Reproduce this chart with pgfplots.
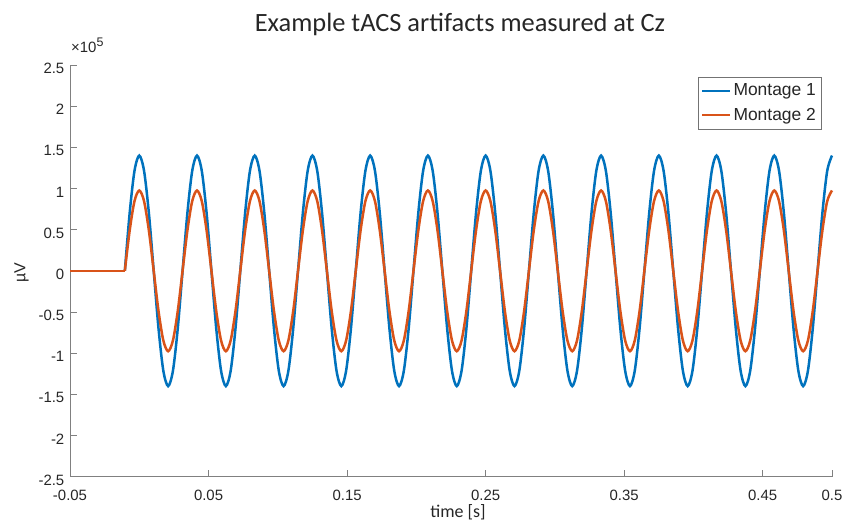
\documentclass[border=0pt]{standalone}
\usepackage{pgfplots}
\pgfplotsset{compat=1.18}
\usepackage{pgfplotstable}
\usepackage{fontspec}
\setmainfont{Liberation Sans}
\newfontfamily\calibri{Carlito}
\definecolor{mblue}{rgb}{0,0.447,0.741}
\definecolor{morange}{rgb}{0.85,0.325,0.098}
\definecolor{tickgray}{rgb}{0.15,0.15,0.15}

\pgfplotstableread{
t m1 m2
-0.010417 0 0
-0.006944 70000 48800
-0.003472 121244 84524
0.000000 140000 97600
0.003472 121244 84524
0.006944 70000 48800
0.010417 0 0
0.013889 -70000 -48800
0.017361 -121244 -84524
0.020833 -140000 -97600
0.024306 -121244 -84524
0.027778 -70000 -48800
0.031250 0 0
0.034722 70000 48800
0.038194 121244 84524
0.041667 140000 97600
0.045139 121244 84524
0.048611 70000 48800
0.052083 0 0
0.055556 -70000 -48800
0.059028 -121244 -84524
0.062500 -140000 -97600
0.065972 -121244 -84524
0.069444 -70000 -48800
0.072917 0 0
0.076389 70000 48800
0.079861 121244 84524
0.083333 140000 97600
0.086806 121244 84524
0.090278 70000 48800
0.093750 0 0
0.097222 -70000 -48800
0.100694 -121244 -84524
0.104167 -140000 -97600
0.107639 -121244 -84524
0.111111 -70000 -48800
0.114583 0 0
0.118056 70000 48800
0.121528 121244 84524
0.125000 140000 97600
0.128472 121244 84524
0.131944 70000 48800
0.135417 0 0
0.138889 -70000 -48800
0.142361 -121244 -84524
0.145833 -140000 -97600
0.149306 -121244 -84524
0.152778 -70000 -48800
0.156250 0 0
0.159722 70000 48800
0.163194 121244 84524
0.166667 140000 97600
0.170139 121244 84524
0.173611 70000 48800
0.177083 0 0
0.180556 -70000 -48800
0.184028 -121244 -84524
0.187500 -140000 -97600
0.190972 -121244 -84524
0.194444 -70000 -48800
0.197917 0 0
0.201389 70000 48800
0.204861 121244 84524
0.208333 140000 97600
0.211806 121244 84524
0.215278 70000 48800
0.218750 0 0
0.222222 -70000 -48800
0.225694 -121244 -84524
0.229167 -140000 -97600
0.232639 -121244 -84524
0.236111 -70000 -48800
0.239583 0 0
0.243056 70000 48800
0.246528 121244 84524
0.250000 140000 97600
0.253472 121244 84524
0.256944 70000 48800
0.260417 0 0
0.263889 -70000 -48800
0.267361 -121244 -84524
0.270833 -140000 -97600
0.274306 -121244 -84524
0.277778 -70000 -48800
0.281250 0 0
0.284722 70000 48800
0.288194 121244 84524
0.291667 140000 97600
0.295139 121244 84524
0.298611 70000 48800
0.302083 0 0
0.305556 -70000 -48800
0.309028 -121244 -84524
0.312500 -140000 -97600
0.315972 -121244 -84524
0.319444 -70000 -48800
0.322917 0 0
0.326389 70000 48800
0.329861 121244 84524
0.333333 140000 97600
0.336806 121244 84524
0.340278 70000 48800
0.343750 0 0
0.347222 -70000 -48800
0.350694 -121244 -84524
0.354167 -140000 -97600
0.357639 -121244 -84524
0.361111 -70000 -48800
0.364583 0 0
0.368056 70000 48800
0.371528 121244 84524
0.375000 140000 97600
0.378472 121244 84524
0.381944 70000 48800
0.385417 0 0
0.388889 -70000 -48800
0.392361 -121244 -84524
0.395833 -140000 -97600
0.399306 -121244 -84524
0.402778 -70000 -48800
0.406250 0 0
0.409722 70000 48800
0.413194 121244 84524
0.416667 140000 97600
0.420139 121244 84524
0.423611 70000 48800
0.427083 0 0
0.430556 -70000 -48800
0.434028 -121244 -84524
0.437500 -140000 -97600
0.440972 -121244 -84524
0.444444 -70000 -48800
0.447917 0 0
0.451389 70000 48800
0.454861 121244 84524
0.458333 140000 97600
0.461806 121244 84524
0.465278 70000 48800
0.468750 0 0
0.472222 -70000 -48800
0.475694 -121244 -84524
0.479167 -140000 -97600
0.482639 -121244 -84524
0.486111 -70000 -48800
0.489583 0 0
0.493056 70000 48800
0.496528 121244 84524
0.500000 140000 97600
}\tacs

\begin{document}
\begin{tikzpicture}
\useasboundingbox (0,0) rectangle (846bp,526bp);
\begin{axis}[
  at={(70bp,49.3bp)}, anchor=south west,
  scale only axis, width=762bp, height=411.7bp,
  xmin=-0.05, xmax=0.5, ymin=-250000, ymax=250000,
  axis x line*=bottom, axis y line*=left,
  axis line style={black!50, line width=0.8bp},
  tick style={black!50, line width=0.8bp},
  tick align=inside, major tick length=6.5bp,
  xtick={-0.05,0.05,0.15,0.25,0.35,0.45,0.5},
  xticklabels={-0.05,0.05,0.15,0.25,0.35,0.45,0.5},
  ytick={-250000,-200000,-150000,-100000,-50000,0,50000,100000,150000,200000,250000},
  yticklabels={-2.5,-2,-1.5,-1,-0.5,0,0.5,1,1.5,2,2.5},
  scaled y ticks=false,
  ticklabel style={font=\fontsize{15}{17}\selectfont, text=tickgray},
  xticklabel style={anchor=base, inner sep=0pt, yshift=-24bp},
  yticklabel style={anchor=east, inner sep=0pt, xshift=-5.5bp, yshift=-3.5bp},
  legend style={at={(0.9865,0.9716)}, anchor=north east, draw=black!55,
    line width=0.6bp, fill=white, font=\fontsize{17.5}{20}\selectfont,
    inner xsep=3.5bp, inner ysep=5bp, row sep=7bp, cells={anchor=west}, text=tickgray},
  legend image code/.code={\draw[#1, line width=2.2bp] (0bp,0bp) -- (28bp,0bp);},
  clip=false,
]
\addplot[mblue, line width=2.5bp, forget plot] coordinates {(-0.05,0) (-0.010417,0)};
\addplot[mblue, line width=2.5bp, smooth] table[x=t, y=m1] {\tacs};
\addlegendentry{Montage 1}
\addplot[morange, line width=2.5bp, forget plot] coordinates {(-0.05,0) (-0.010417,0)};
\addplot[morange, line width=2.5bp, smooth] table[x=t, y=m2] {\tacs};
\addlegendentry{Montage 2}
\end{axis}
\node[anchor=base, text=tickgray, font=\calibri\fontsize{26.5}{30}\selectfont] at (460bp,494bp) {Example tACS artifacts measured at Cz};
\node[anchor=base, text=tickgray, font=\calibri\fontsize{18}{20}\selectfont] at (458bp,8.4bp) {time [s]};
\node[rotate=90, anchor=center, text=tickgray, font=\fontsize{16}{18}\selectfont] at (21.5bp,253bp) {µV};
\node[anchor=base west, inner sep=0pt, text=tickgray, font=\fontsize{15}{17}\selectfont] at (71bp,473.3bp) {×10\raisebox{0.42em}{\fontsize{12.5}{13}\selectfont 5}};
\end{tikzpicture}
\end{document}
